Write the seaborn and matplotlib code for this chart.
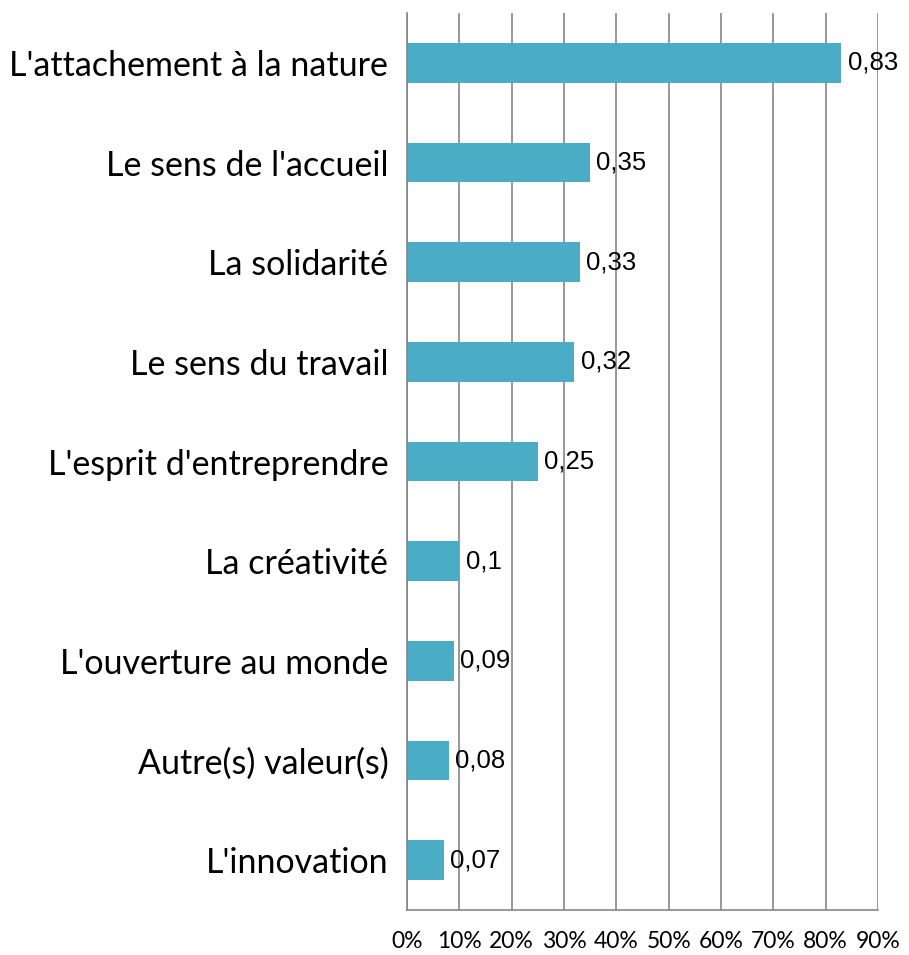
import numpy as np
import pandas as pd
import matplotlib
matplotlib.use("Agg")
import matplotlib.pyplot as plt
import seaborn as sns
from matplotlib.ticker import FixedLocator, PercentFormatter

categories = [
    "L'attachement à la nature",
    "Le sens de l'accueil",
    "La solidarité",
    "Le sens du travail",
    "L'esprit d'entreprendre",
    "La créativité",
    "L'ouverture au monde",
    "Autre(s) valeur(s)",
    "L'innovation",
]
values = [0.83, 0.35, 0.33, 0.32, 0.25, 0.10, 0.09, 0.08, 0.07]
value_labels = ["0,83", "0,35", "0,33", "0,32", "0,25", "0,1", "0,09", "0,08", "0,07"]
x_ticks = [0, 0.1, 0.2, 0.3, 0.4, 0.5, 0.6, 0.7, 0.8, 0.9]

df = pd.DataFrame({"valeur": categories, "part": values})

sns.set_style("white")
plt.rcParams["font.family"] = ["Lato", "DejaVu Sans"]

bar_color = "#4BACC6"
grid_color = "#868686"

fig = plt.figure(figsize=(9.09, 9.55), dpi=100)
ax = fig.add_axes([407 / 909, 1 - 910 / 955, (878 - 407) / 909, (910 - 13) / 955])

sns.barplot(data=df, y="valeur", x="part", orient="h", color=bar_color,
            saturation=1, width=0.4, linewidth=0, ax=ax)

ax.set_xlim(0, 0.9)
ax.set_ylim(len(categories) - 0.5, -0.5)
ax.set_xticks(x_ticks)
ax.xaxis.set_major_formatter(PercentFormatter(1.0, decimals=0))
ax.grid(axis="x", color=grid_color, linewidth=1.2)
ax.set_axisbelow(True)

for s in ["top", "right"]:
    ax.spines[s].set_visible(False)
for s in ["left", "bottom"]:
    ax.spines[s].set_color(grid_color)
    ax.spines[s].set_linewidth(1.2)

ax.set_xlabel("")
ax.set_ylabel("")
ax.tick_params(axis="x", direction="out", length=10, width=1.2, color=grid_color,
               labelsize=16.5, pad=5, labelcolor="black")
ax.tick_params(axis="y", which="major", length=0, labelsize=24.5, pad=13.5, labelcolor="black")
ax.yaxis.set_minor_locator(FixedLocator(np.arange(-0.5, len(categories), 1.0)))
ax.tick_params(axis="y", which="minor", direction="out", length=10, width=1.2, color=grid_color)

for i, (v, lab) in enumerate(zip(values, value_labels)):
    ax.text(v + 0.012, i, lab, va="center", ha="left", fontsize=18.5,
            family=["Liberation Sans", "DejaVu Sans"], color="black")

fig.savefig("out.png", dpi=100)
